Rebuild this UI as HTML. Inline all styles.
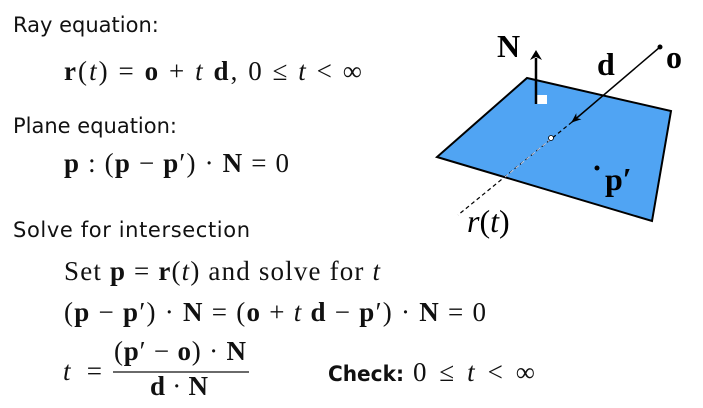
<!DOCTYPE html>
<html><head><meta charset="utf-8"><style>
body{margin:0;background:#fff;width:703px;height:408px;overflow:hidden}
svg{display:block}
.s{font-family:"DejaVu Sans","Liberation Sans",sans-serif;font-size:21px;fill:#111}
.m{font-family:"Liberation Serif",serif;font-size:27px;fill:#111}
.d{font-family:"Liberation Serif",serif;font-size:32px;fill:#000}
.b{font-weight:bold}
.i{font-style:italic}
</style></head><body>
<svg width="703" height="408" viewBox="0 0 703 408" xmlns="http://www.w3.org/2000/svg">
<defs><marker id="a" markerWidth="10" markerHeight="8" refX="9" refY="4" orient="auto" markerUnits="userSpaceOnUse"><path d="M0,0 L10,4 L0,8 L3,4z" fill="#000"/></marker></defs>
<polygon points="527,78 671,111 652,221 437,157" fill="#50a4f3" stroke="#000" stroke-width="2"/>
<line x1="660" y1="47" x2="572" y2="122" stroke="#000" stroke-width="1.5" marker-end="url(#a)"/>
<line x1="572" y1="122" x2="458" y2="215" stroke="#000" stroke-width="1.2" stroke-dasharray="4,3"/>
<line x1="551" y1="139" x2="505" y2="177" stroke="#ccd" stroke-width="1" stroke-dasharray="4,3"/>
<circle cx="660" cy="47" r="2.5" fill="#000"/>
<circle cx="551" cy="138" r="2.5" fill="#fff" stroke="#000" stroke-width="0.8"/>
<rect x="537" y="95" width="10" height="9" fill="#fff"/>
<line x1="536" y1="104" x2="536" y2="58" stroke="#000" stroke-width="2.5"/>
<path d="M530,60 L536,50 L542,60 L536,57z" fill="#000"/>
<text x="497" y="57" class="d b">N</text>
<text x="597" y="75" class="d b">d</text>
<text x="666" y="68" class="d b">o</text>
<circle cx="597" cy="168" r="2.5" fill="#000"/>
<text x="605" y="190" class="d b">p′</text>
<text x="467" y="232" class="d"><tspan class="i">r</tspan>(<tspan class="i">t</tspan>)</text>

<text x="13" y="32" class="s">Ray equation:</text>
<text x="64" y="80" class="m" textLength="298" lengthAdjust="spacing"><tspan class="b">r</tspan>(<tspan class="i">t</tspan>) = <tspan class="b">o</tspan> + <tspan class="i">t</tspan> <tspan class="b">d</tspan>,  0 ≤ <tspan class="i">t</tspan> &lt; ∞</text>
<text x="13" y="133" class="s">Plane equation:</text>
<text x="64" y="172" class="m" textLength="225" lengthAdjust="spacing"><tspan class="b">p</tspan> : (<tspan class="b">p</tspan> − <tspan class="b">p</tspan>′) · <tspan class="b">N</tspan> = 0</text>
<text x="13" y="237" class="s" textLength="237" lengthAdjust="spacing">Solve for intersection</text>
<text x="64" y="280" class="m" textLength="316" lengthAdjust="spacing">Set <tspan class="b">p</tspan> = <tspan class="b">r</tspan>(<tspan class="i">t</tspan>) and solve for <tspan class="i">t</tspan></text>
<text x="64" y="321" class="m" textLength="422" lengthAdjust="spacing">(<tspan class="b">p</tspan> − <tspan class="b">p</tspan>′) · <tspan class="b">N</tspan> = (<tspan class="b">o</tspan> + <tspan class="i">t</tspan> <tspan class="b">d</tspan> − <tspan class="b">p</tspan>′) · <tspan class="b">N</tspan> = 0</text>
<text x="63" y="380" class="m" textLength="39" lengthAdjust="spacing"><tspan class="i">t</tspan> =</text>
<text x="114" y="360" class="m" textLength="132" lengthAdjust="spacing">(<tspan class="b">p</tspan>′ − <tspan class="b">o</tspan>) · <tspan class="b">N</tspan></text>
<line x1="113" y1="372" x2="249" y2="372" stroke="#111" stroke-width="1.3"/>
<text x="150" y="395" class="m" textLength="58" lengthAdjust="spacing"><tspan class="b">d</tspan> · <tspan class="b">N</tspan></text>
<text x="328" y="381" class="s b" textLength="76" lengthAdjust="spacingAndGlyphs">Check:</text>
<text x="413" y="381" class="m" textLength="122" lengthAdjust="spacing">0 ≤ <tspan class="i">t</tspan> &lt; ∞</text>
</svg>
</body></html>
